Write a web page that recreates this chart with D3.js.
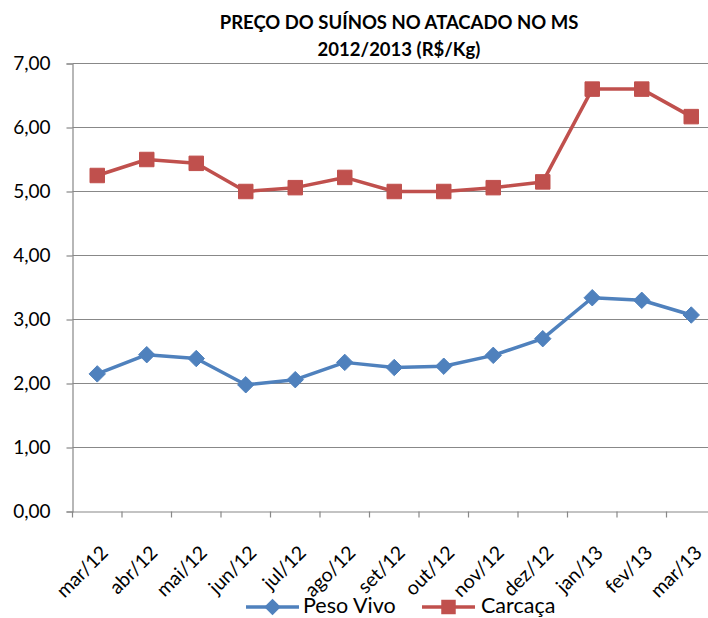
<!DOCTYPE html>
<html>
<head>
<meta charset="utf-8">
<script src="https://cdn.jsdelivr.net/npm/d3@7"></script>
<style>
  body { margin: 0; background: #fff; }
  svg { display: block; font-family: Lato, "Open Sans", sans-serif; }
</style>
</head>
<body>
<div id="chart"></div>
<script>
const meses = ["mar/12", "abr/12", "mai/12", "jun/12", "jul/12", "ago/12", "set/12",
  "out/12", "nov/12", "dez/12", "jan/13", "fev/13", "mar/13"];
const pesoVivo = [2.15, 2.45, 2.39, 1.98, 2.06, 2.33, 2.25, 2.27, 2.44, 2.70, 3.34, 3.30, 3.07];
const carcaca = [5.25, 5.50, 5.44, 5.00, 5.06, 5.22, 5.00, 5.00, 5.06, 5.15, 6.60, 6.60, 6.17];
const yTicks = [0, 1, 2, 3, 4, 5, 6, 7];
const titulo = ["PREÇO DO SUÍNOS NO ATACADO NO MS", "2012/2013 (R$/Kg)"];

const width = 708, height = 618;
const margin = { top: 63.5, left: 72.5, bottom: 511.5, right: 716 };

// losango = quadrado girado 45 graus (como no Excel)
const losango = {
  draw(ctx, size) {
    const r = Math.sqrt(size) / 2;
    ctx.moveTo(0, -r);
    ctx.lineTo(r, 0);
    ctx.lineTo(0, r);
    ctx.lineTo(-r, 0);
    ctx.closePath();
  }
};

const series = [
  { nome: "Peso Vivo", valores: pesoVivo, cor: "#4F81BD", marca: losango, tam: 270 },
  { nome: "Carcaça", valores: carcaca, cor: "#C0504D", marca: d3.symbolSquare, tam: 210 }
];

const pt = d3.formatLocale({ decimal: ",", thousands: ".", grouping: [3], currency: ["R$", ""] });
const fmt = pt.format(".2f");

const svg = d3.select("#chart").append("svg")
  .attr("width", width)
  .attr("height", height)
  .attr("viewBox", [0, 0, width, height]);

const x = d3.scaleBand()
  .domain(meses)
  .range([margin.left, margin.right]);

const y = d3.scaleLinear()
  .domain([0, 7])
  .range([margin.bottom, margin.top]);

// titulo
svg.append("g")
  .selectAll("text")
  .data(titulo)
  .join("text")
  .attr("x", 399)
  .attr("y", (d, i) => 29 + i * 27)
  .attr("text-anchor", "middle")
  .attr("font-weight", "bold")
  .attr("font-size", 18.5)
  .attr("fill", "#000")
  .text(d => d);

// grade
svg.append("g")
  .selectAll("line")
  .data(yTicks.slice(1))
  .join("line")
  .attr("x1", margin.left)
  .attr("x2", margin.right)
  .attr("y1", d => y(d))
  .attr("y2", d => y(d))
  .attr("stroke", "#888")
  .attr("stroke-width", 1.2);

const yAxis = g => g
  .attr("transform", `translate(${margin.left},0)`)
  .call(d3.axisLeft(y).tickValues(yTicks).tickFormat(fmt).tickSize(6).tickPadding(16))
  .call(g => g.select(".domain").attr("stroke", "#888").attr("stroke-width", 1.2))
  .call(g => g.selectAll(".tick line").attr("stroke", "#888").attr("stroke-width", 1.2))
  .call(g => g.selectAll(".tick text")
    .attr("font-family", "Lato, sans-serif")
    .attr("font-size", 19)
    .attr("fill", "#000"));

const xAxis = g => g
  .attr("transform", `translate(0,${margin.bottom})`)
  .call(d3.axisBottom(x).tickValues([]).tickSizeOuter(0))
  .call(g => g.select(".domain").attr("stroke", "#888").attr("stroke-width", 1.2));

svg.append("g").call(xAxis);

// marcas de categoria
svg.append("g")
  .selectAll("line")
  .data(meses)
  .join("line")
  .attr("x1", d => x(d))
  .attr("x2", d => x(d))
  .attr("y1", margin.bottom)
  .attr("y2", margin.bottom + 6)
  .attr("stroke", "#888")
  .attr("stroke-width", 1.2);

svg.append("g")
  .selectAll("text")
  .data(meses)
  .join("text")
  .attr("transform", d => `translate(${x(d) + x.bandwidth() / 2 + 12},554) rotate(-45)`)
  .attr("text-anchor", "end")
  .attr("font-size", 19.5)
  .attr("fill", "#000")
  .text(d => d);

svg.append("g").call(yAxis);

const linha = d3.line()
  .x((d, i) => x(meses[i]) + x.bandwidth() / 2)
  .y(d => y(d));

series.forEach(s => {
  svg.append("path")
    .datum(s.valores)
    .attr("fill", "none")
    .attr("stroke", s.cor)
    .attr("stroke-width", 3.5)
    .attr("stroke-linejoin", "round")
    .attr("d", linha);

  svg.append("g")
    .selectAll("path")
    .data(s.valores)
    .join("path")
    .attr("transform", (d, i) => `translate(${x(meses[i]) + x.bandwidth() / 2},${y(d)})`)
    .attr("d", d3.symbol().type(s.marca).size(s.tam))
    .attr("fill", s.cor)
    .attr("stroke", s.cor)
    .attr("stroke-width", 1)
    .attr("stroke-linejoin", "round");
});

// legenda
const legenda = [
  { serie: series[0], x0: 246, texto: 303 },
  { serie: series[1], x0: 422, texto: 481 }
];
legenda.forEach(l => {
  const g = svg.append("g");
  g.append("line")
    .attr("x1", l.x0).attr("x2", l.x0 + 53)
    .attr("y1", 607).attr("y2", 607)
    .attr("stroke", l.serie.cor)
    .attr("stroke-width", 3.5);
  g.append("path")
    .attr("transform", `translate(${l.x0 + 26.5},607)`)
    .attr("d", d3.symbol().type(l.serie.marca).size(l.serie.tam))
    .attr("fill", l.serie.cor);
  g.append("text")
    .attr("x", l.texto)
    .attr("y", 613)
    .attr("font-size", 21.5)
    .attr("fill", "#000")
    .text(l.serie.nome);
});
</script>
</body>
</html>
